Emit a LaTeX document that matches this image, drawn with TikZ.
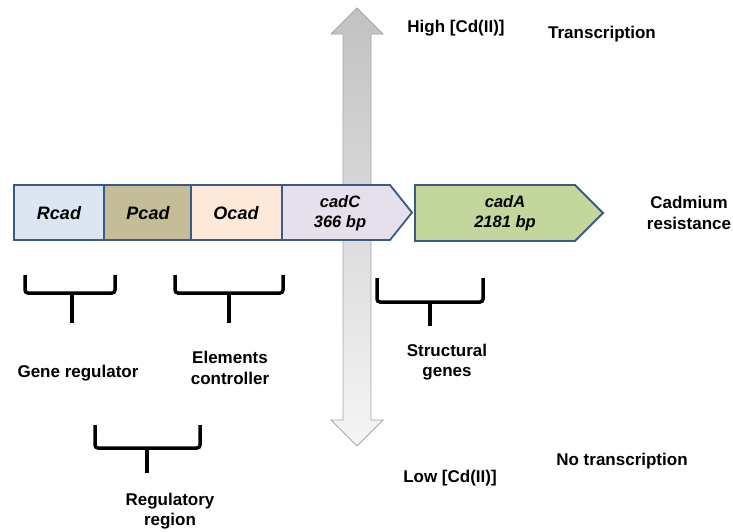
\documentclass[tikz,border=0pt]{standalone}
\usepackage{fontspec}
\setmainfont{Liberation Sans}
\definecolor{rcadc}{HTML}{DCE6F2}
\definecolor{pcadc}{HTML}{C4BD97}
\definecolor{ocadc}{HTML}{FDE9D9}
\definecolor{cadcc}{HTML}{E5E0EC}
\definecolor{cadac}{HTML}{C3D69B}
\definecolor{genebd}{HTML}{3B5A8A}
\begin{document}
\begin{tikzpicture}[x=1pt,y=-1pt,
  lbl/.style={font=\fontsize{17}{20.5}\selectfont\bfseries, align=center, inner sep=0},
  gene/.style={draw=genebd, line width=1.8pt, line join=miter},
  gtext/.style={font=\fontsize{18}{20}\selectfont\bfseries\itshape, align=center, inner sep=0},
  gtwo/.style={font=\fontsize{16.5}{20}\selectfont\bfseries\itshape, align=center, inner sep=0},
  brace/.style={line width=3.5pt, rounded corners=3pt},
  stem/.style={line width=3.5pt}]
\useasboundingbox (0,0) rectangle (733,531);
% vertical double arrow (behind the genes)
\path[draw=gray!70, line width=0.8pt, top color=gray!48, bottom color=gray!8]
  (343,34) -- (331,34) -- (357,8) -- (383,34) -- (371,34) -- (371,420)
  -- (383,420) -- (357,446) -- (331,420) -- (343,420) -- cycle;
% gene boxes
\draw[gene, fill=rcadc] (14,185) rectangle (104,240);
\draw[gene, fill=pcadc] (104,185) rectangle (191,240);
\draw[gene, fill=ocadc] (191,185) rectangle (282,240);
\draw[gene, fill=cadcc] (282,185) -- (390,185) -- (412,212.5) -- (390,240) -- (282,240) -- cycle;
\draw[gene, fill=cadac] (415,185) -- (575,185) -- (603,213) -- (575,241) -- (415,241) -- cycle;
\node[gtext] (rcad) at (59,213) {Rcad};
\node[gtext] (pcad) at (148,213) {Pcad};
\node[gtext] (ocad) at (236,213) {Ocad};
\node[gtwo] (cadC) at (340,213) {cadC\\366 bp};
\node[gtwo] (cadA) at (505,213) {cadA\\2181 bp};
% labels
\node[lbl] (high) at (456,28) {High [Cd(II)]};
\node[lbl] (trans) at (602,34) {Transcription};
\node[lbl] (cadres) at (689,213) {Cadmium\\resistance};
\node[lbl] (low) at (450,478) {Low [Cd(II)]};
\node[lbl] (notrans) at (622,461) {No transcription};
\node[lbl] (genereg) at (78,373) {Gene regulator};
\node[lbl] (elem) at (230,368) {Elements\\controller};
\node[lbl] (struct) at (447,362) {Structural\\genes};
\node[lbl] (regreg) at (170,511) {Regulatory\\region};
% braces
\draw[brace] (25,275) -- (25,293) -- (115,293) -- (115,275);
\draw[stem] (72,293) -- (72,323);
\draw[brace] (175,275) -- (175,293) -- (283,293) -- (283,275);
\draw[stem] (229,293) -- (229,323);
\draw[brace] (377,278) -- (377,302) -- (483,302) -- (483,278);
\draw[stem] (430,302) -- (430,326);
\draw[brace] (95,425) -- (95,448) -- (200,448) -- (200,425);
\draw[stem] (147,448) -- (147,473);
\end{tikzpicture}
\end{document}
